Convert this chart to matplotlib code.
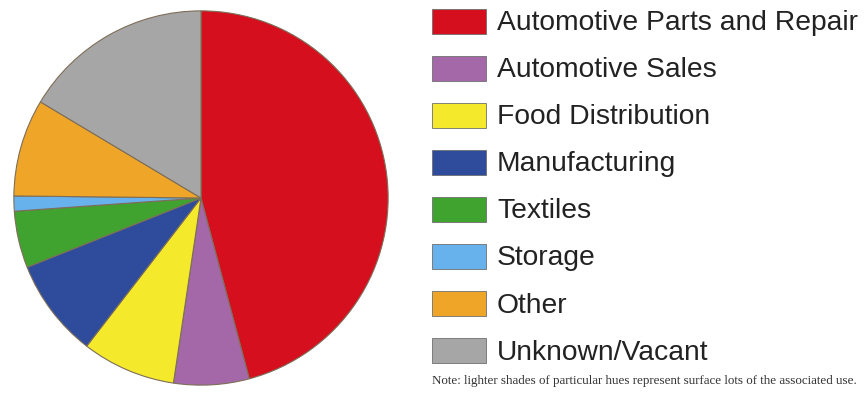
import matplotlib.pyplot as plt
from matplotlib.patches import Rectangle

# land use shares (percent of parcels)
labels = ['Automotive Parts and Repair', 'Automotive Sales', 'Food Distribution',
          'Manufacturing', 'Textiles', 'Storage', 'Other', 'Unknown/Vacant']
shares = [45.8, 6.5, 8.1, 8.5, 4.9, 1.3, 8.4, 16.4]
colors = ['#d50f1e', '#a468a9', '#f5e92c', '#2f4c9c', '#40a22f', '#67b2ec', '#efa527', '#a7a6a6']
note = 'Note: lighter shades of particular hues represent surface lots of the associated use.'

W, H = 867, 402
fig = plt.figure(figsize=(W / 100, H / 100), dpi=100)

# pie, centre at (201, 199) px, radius 189 px
cx, cy, r = 201, 199, 189
ax = fig.add_axes([(cx - r) / W, (H - cy - r) / H, 2 * r / W, 2 * r / H])
ax.pie(shares, colors=colors, startangle=90, counterclock=False, radius=1,
       wedgeprops=dict(edgecolor='#7d6e58', linewidth=0.8))
ax.set_xlim(-1.01, 1.01)
ax.set_ylim(-1.01, 1.01)
ax.set_aspect('equal')
ax.axis('off')

# legend drawn in pixel coordinates
lax = fig.add_axes([0, 0, 1, 1])
lax.set_xlim(0, W)
lax.set_ylim(H, 0)
lax.axis('off')
for i, (lab, col) in enumerate(zip(labels, colors)):
    y = 22 + i * 47.1
    lax.add_patch(Rectangle((432, y - 12.5), 54, 25, facecolor=col,
                            edgecolor='#6f6f6f', linewidth=0.6))
    lax.text(497, y + 1, lab, fontsize=20.3, family='Liberation Sans',
             color='#222222', va='center', ha='left')

lax.text(432, 381, note, fontsize=9.4, family='Liberation Serif',
         color='#333333', va='center', ha='left')

fig.savefig('out.png', dpi=100)
